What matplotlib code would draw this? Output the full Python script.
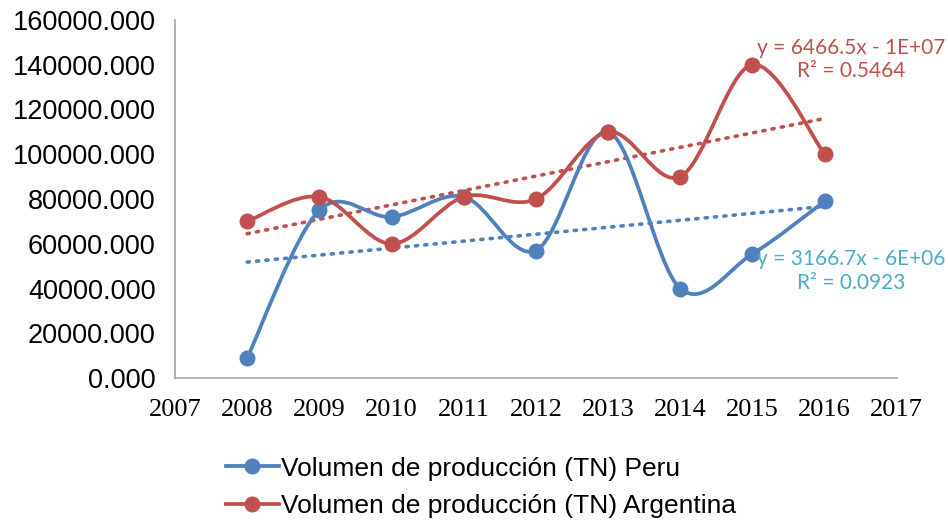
import numpy as np
import matplotlib
matplotlib.use("Agg")
import matplotlib.pyplot as plt
from matplotlib.path import Path
from matplotlib.patches import PathPatch
from matplotlib.lines import Line2D

# data
years = [2008, 2009, 2010, 2011, 2012, 2013, 2014, 2015, 2016]
peru = [9000, 75000, 72000, 81000, 57000, 110000, 40000, 55500, 79000]
argentina = [70000, 81000, 60000, 81000, 80000, 110000, 90000, 140000, 100000]
labels = ["Volumen de producción (TN) Peru", "Volumen de producción (TN) Argentina"]
eq_text = ["y = 3166.7x - 6E+06\nR² = 0.0923", "y = 6466.5x - 1E+07\nR² = 0.5464"]

blue = "#4F81BD"
red = "#C0504D"
cyan = "#4BACC6"


def smooth_path(x, y):
    # excel-like smoothed line: bezier segments through the points
    x = np.asarray(x, float)
    y = np.asarray(y, float)
    px = np.concatenate([[x[0]], x, [x[-1]]])
    py = np.concatenate([[y[0]], y, [y[-1]]])
    verts = [(x[0], y[0])]
    codes = [Path.MOVETO]
    for i in range(1, len(x)):
        c1 = (px[i] + (px[i + 1] - px[i - 1]) / 6, py[i] + (py[i + 1] - py[i - 1]) / 6)
        c2 = (px[i + 1] - (px[i + 2] - px[i]) / 6, py[i + 1] - (py[i + 2] - py[i]) / 6)
        verts += [c1, c2, (px[i + 1], py[i + 1])]
        codes += [Path.CURVE4] * 3
    return Path(verts, codes)


fig = plt.figure(figsize=(9.48, 5.23), dpi=100)
ax = fig.add_axes([0.1846, 0.277, 0.7614, 0.685])

for vals, col in [(peru, blue), (argentina, red)]:
    ax.add_patch(PathPatch(smooth_path(years, vals), facecolor="none",
                           edgecolor=col, linewidth=2.7, capstyle="round", zorder=3))
    ax.plot(years, vals, "o", color=col, markersize=10.5, zorder=4)
    # linear trendline
    k, b = np.polyfit(years, vals, 1)
    xt = np.array([years[0], years[-1]])
    ax.plot(xt, k * xt + b, color=col, linewidth=2.6, linestyle=(0, (0.6, 2.0)),
            dash_capstyle="round", zorder=2)

ax.set_xlim(2007, 2017)
ax.set_ylim(0, 160000)
ax.set_xticks(range(2007, 2018))
ax.set_yticks(np.arange(0, 160001, 20000))
ax.set_yticklabels([f"{v:.3f}" for v in np.arange(0, 160001, 20000)],
                   fontsize=19.5, family="Liberation Sans")
ax.set_xticklabels([str(v) for v in range(2007, 2018)], fontsize=19, family="Liberation Serif")
ax.tick_params(axis="y", length=0, pad=14)
ax.tick_params(axis="x", length=0, pad=15)
for s in ["top", "right"]:
    ax.spines[s].set_visible(False)
for s in ["left", "bottom"]:
    ax.spines[s].set_color("#A6A6A6")
    ax.spines[s].set_linewidth(1.2)

fig.text(0.898, 0.886, eq_text[1], color=red, fontsize=15, family="Lato",
         ha="center", va="center", linespacing=1.2)
fig.text(0.898, 0.482, eq_text[0], color=cyan, fontsize=15, family="Lato",
         ha="center", va="center", linespacing=1.2)

handles = [Line2D([], [], color=blue, lw=2.7, marker="o", markersize=10.5),
           Line2D([], [], color=red, lw=2.7, marker="o", markersize=10.5)]
fig.legend(handles, labels, loc="upper left", bbox_to_anchor=(0.227, 0.147),
           frameon=False, handlelength=2.0, handletextpad=0.1,
           labelspacing=0.52, borderaxespad=0, prop={"family": "Liberation Sans", "size": 19})

fig.savefig("out.png", dpi=100)
